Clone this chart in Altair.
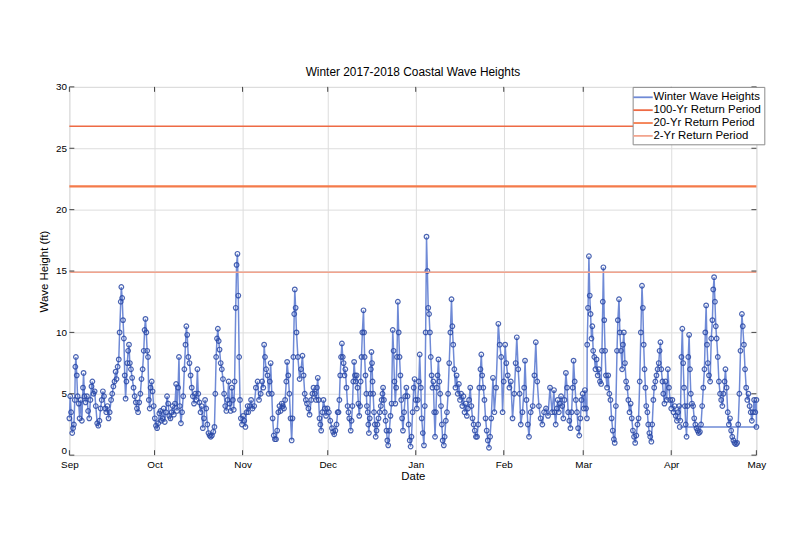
import altair as alt
import pandas as pd

# ---- data: days since 2017-09-01 and wave height (ft) ----
SEG1_DAYS = [
    0.0, 0.3, 0.6, 1.0, 1.3, 1.6, 1.9, 2.1, 2.3, 2.6, 2.9, 3.3, 3.6, 4.0, 4.4, 4.8, 5.0, 5.3, 5.7, 6.2,
    6.6, 7.0, 7.4, 7.8, 8.1, 8.5, 8.9, 9.3, 9.8, 10.2, 10.6, 11.0, 11.4, 11.8, 12.2, 12.6, 13.0, 13.4, 13.8, 14.2,
    14.7, 15.1, 15.5, 15.9, 16.3, 16.6, 17.0, 17.4, 17.7, 18.1, 18.3, 18.6, 18.9, 19.2, 19.5, 19.8, 20.1, 20.4, 20.7, 21.0,
    21.3, 21.7, 22.1, 22.6, 23.0, 23.4, 23.8, 24.2, 24.6, 25.0, 25.4, 25.8, 26.2, 26.5, 26.8, 27.1, 27.4, 27.7, 28.0, 28.3,
    28.6, 29.0, 29.3, 29.7, 30.1, 30.5, 30.9, 31.3, 31.7, 32.1, 32.4, 32.8, 33.2, 33.6, 34.0, 34.4, 34.8, 35.2, 35.6, 36.0,
    36.4, 36.8, 37.2, 37.6, 37.9, 38.3, 38.6, 38.9, 39.3, 39.7, 40.1, 40.5, 40.9, 41.2, 41.5, 41.9, 42.3, 42.7, 43.1, 43.5,
    43.9, 44.3, 44.7, 45.1, 45.4, 45.8, 46.2, 46.6, 47.0, 47.4, 47.8, 48.2, 48.6, 49.0, 49.4, 49.8, 50.2, 50.7, 51.1, 51.4,
    51.7, 52.0, 52.3, 52.6, 52.9, 53.3, 53.7, 54.1, 54.5, 54.9, 55.3, 55.7, 56.1, 56.4, 56.8, 57.2, 57.6, 57.9, 58.2, 58.6,
    58.9, 59.2, 59.5, 59.8, 60.1, 60.4, 60.8, 61.2, 61.6, 62.0, 62.4, 62.8, 63.0, 63.6, 64.0, 64.5, 65.1, 65.7, 66.3, 66.8,
    67.4, 67.9, 68.3, 68.6, 68.9, 69.3, 69.8, 70.2, 70.6, 70.9, 71.3, 71.6, 72.0, 72.4, 72.8, 73.2, 73.6, 74.0, 74.4, 74.8,
    75.2, 75.6, 76.0, 76.4, 76.7, 77.1, 77.5, 77.9, 78.3, 78.6, 78.9, 79.2, 79.4,
]
SEG1_H = [
    3.0, 4.8, 3.5, 1.8, 2.2, 2.5, 4.5, 7.2, 8.0, 6.5, 4.8, 4.2, 3.0, 4.5, 2.8, 5.5, 6.7, 4.8, 4.3, 4.8,
    3.6, 3.0, 4.5, 5.6, 6.0, 5.0, 5.2, 4.0, 2.6, 2.4, 2.8, 3.8, 4.5, 5.2, 4.8, 3.8, 3.5, 4.0, 3.0, 3.5,
    4.5, 5.0, 5.6, 6.0, 6.8, 6.2, 7.2, 7.8, 10.0, 12.5, 13.7, 12.8, 11.0, 9.5, 6.5, 4.6, 6.0, 7.5, 8.5, 9.0,
    7.5, 7.0, 6.3, 5.5, 4.8, 4.3, 3.8, 3.5, 4.3, 5.0, 6.2, 7.0, 8.5, 10.2, 11.1, 10.0, 8.5, 8.0, 4.5, 3.8,
    5.5, 6.0, 5.2, 4.0, 3.0, 2.4, 2.2, 2.6, 3.4, 3.6, 2.8, 3.0, 3.8, 2.7, 3.5, 4.8, 4.2, 3.2, 3.0, 3.5,
    4.0, 3.3, 4.2, 5.8, 3.6, 5.5, 8.0, 4.0, 2.6, 3.5, 4.8, 7.0, 9.0, 10.5, 9.8, 8.0, 7.5, 6.5, 5.5, 4.8,
    4.2, 5.0, 4.5, 7.0, 5.0, 4.3, 3.5, 4.0, 2.2, 3.0, 4.5, 3.8, 2.5, 1.8, 1.6, 1.5, 1.6, 1.9, 2.3, 5.0,
    8.0, 9.5, 10.3, 9.3, 8.6, 7.5, 7.0, 6.2, 5.0, 4.0, 3.6, 4.5, 6.0, 4.2, 3.6, 5.5, 4.5, 3.7, 6.0, 12.0,
    15.5, 16.4, 13.0, 8.0, 4.5, 3.0, 2.5, 3.2, 2.8, 2.3, 3.5, 4.0, 3.5, 4.0, 4.5, 3.8, 4.0, 5.5, 6.0, 4.5,
    5.0, 6.0, 5.5, 9.0, 8.0, 7.0, 6.5, 5.0, 6.0, 7.5, 5.0, 3.0, 1.6, 1.3, 1.3, 2.0, 3.5, 4.0, 3.6, 4.2,
    4.0, 3.8, 4.5, 6.0, 7.6, 6.5, 5.0, 3.0, 1.2, 3.0, 8.0, 11.5, 13.5,
]

SEG2_DAYS = [
    79.7, 80.0, 80.5, 81.1, 81.6, 82.1, 82.5, 82.9, 83.3, 83.7, 84.2, 84.6, 85.2, 85.6, 86.0, 86.5, 86.9, 87.2, 87.5, 87.8,
    88.1, 88.4, 88.7, 89.1, 89.5, 90.0, 90.4, 90.9, 91.4, 91.9, 92.5, 92.9, 93.3, 93.7, 94.1, 94.5, 94.8, 95.1, 95.4, 95.7,
    96.0, 96.3, 96.6, 96.9, 97.2, 97.6, 98.0, 98.3, 98.6, 99.1, 99.4, 99.7, 100.0, 100.3, 100.6, 100.9, 101.2, 101.5, 101.8, 102.1,
    102.4, 102.6, 102.9, 103.2, 103.6, 103.8, 104.0, 104.3, 104.6, 104.8, 105.1, 105.3, 105.5, 105.8, 106.0, 106.2, 106.4, 106.6, 106.8, 107.0,
    107.3, 107.6, 107.9, 108.2, 108.5, 108.9, 109.3, 109.7, 110.0, 110.3, 110.5, 110.8, 111.1, 111.4, 111.7, 112.0, 112.3, 112.7, 113.1, 113.5,
]
SEG2_H = [
    12.0, 10.0, 8.0, 6.2, 7.0, 8.1, 6.5, 5.0, 4.5, 4.2, 3.8, 3.3, 4.5, 5.0, 5.5, 5.0, 4.5, 5.5, 6.3, 4.5,
    3.0, 2.5, 2.0, 3.5, 4.5, 3.8, 3.2, 3.8, 3.5, 2.8, 2.2, 1.9, 1.7, 2.0, 2.5, 3.5, 3.5, 4.5, 6.5, 8.0,
    9.1, 8.0, 7.5, 6.5, 7.0, 5.5, 4.0, 3.5, 3.0, 2.0, 2.8, 4.0, 6.0, 7.6, 6.5, 6.0, 6.5, 5.5, 4.2, 3.2,
    4.0, 6.0, 8.0, 10.0, 11.8, 10.0, 8.0, 6.5, 5.0, 4.0, 3.5, 2.5, 1.8, 3.0, 5.0, 7.0, 8.4, 7.5, 6.0, 5.0,
    3.5, 2.5, 1.5, 2.0, 2.5, 3.0, 3.5, 4.0, 4.5, 5.0, 5.5, 4.5, 3.5, 2.8, 2.0, 1.2, 0.8, 2.0, 3.2, 4.2,
]

SEG3_DAYS = [
    113.9, 114.2, 114.5, 114.8, 115.1, 115.4, 115.7, 116.0, 116.3, 116.6, 116.9, 117.2, 117.5, 117.9, 118.3, 118.7, 119.1, 119.5, 119.9, 120.2,
    120.5, 120.9, 121.3, 121.6, 122.0, 122.4, 122.7, 123.1, 123.4, 123.8, 124.1, 124.5, 124.9, 125.2, 125.5, 125.8, 126.1, 126.4, 126.7, 127.0,
    127.3, 127.6, 127.9, 128.2, 128.5, 128.8, 129.1, 129.4, 129.7, 130.0, 130.3, 130.6, 130.9, 131.2, 131.5, 131.9, 132.2, 132.6, 133.0, 133.4,
    133.8, 134.2, 134.6, 134.9, 135.2, 135.6, 136.0, 136.4, 136.8, 137.2, 137.6, 138.0, 138.4, 138.8, 139.2, 139.6, 140.0, 140.4, 140.8, 141.2,
    141.6, 142.0, 142.4, 142.8, 143.2, 143.6, 144.0, 144.4, 144.8, 145.1, 145.4, 145.8, 146.2, 146.6, 147.0, 147.4, 147.8, 148.2,
]
SEG3_H = [
    10.2, 8.5, 6.0, 4.2, 5.5, 8.0, 12.5, 10.0, 8.0, 6.5, 4.5, 3.0, 2.0, 3.5, 4.8, 5.5, 4.8, 2.5, 1.2, 0.7,
    1.5, 3.5, 5.5, 6.2, 4.5, 3.8, 4.5, 6.0, 8.2, 5.5, 3.0, 1.8, 0.8, 4.0, 10.0, 17.8, 15.0, 12.0, 11.5, 10.0,
    8.0, 6.5, 5.5, 6.0, 3.5, 1.5, 3.5, 5.5, 6.5, 7.8, 6.0, 5.0, 4.0, 2.5, 1.2, 0.8, 1.5, 2.8, 3.5, 5.0,
    7.5, 10.0, 12.7, 10.5, 9.0, 7.0, 5.5, 6.5, 5.0, 5.8, 4.5, 5.0, 4.0, 4.8, 3.5, 4.2, 3.2, 3.8, 4.5, 5.5,
    4.0, 3.0, 2.5, 2.0, 1.5, 1.5, 2.5, 5.5, 7.0, 8.2, 6.5, 5.5, 4.5, 3.0, 2.0, 1.2, 0.6, 1.5,
]

SEG4_DAYS = [
    148.6, 149.2, 149.7, 150.3, 151.1, 151.6, 152.1, 152.6, 153.0, 153.5, 153.9, 154.4, 155.0, 155.5, 156.1, 156.7, 157.2, 157.6, 158.1, 158.6,
    159.0, 159.6, 160.2, 160.5, 161.0, 161.5, 161.9, 162.5, 163.2, 163.8, 164.3, 164.8, 165.4, 166.0, 166.6, 167.2, 167.9, 168.6, 169.3, 170.0,
    170.7,
]
SEG4_H = [
    3.0, 6.3, 3.5, 5.5, 10.7, 9.0, 8.0, 3.5, 6.0, 9.0, 7.5, 6.5, 5.5, 6.0, 3.0, 5.0, 7.5, 9.6, 7.0, 5.0,
    2.5, 3.5, 5.5, 7.7, 4.5, 2.5, 1.5, 3.5, 4.0, 6.5, 9.2, 6.0, 4.0, 3.0, 2.5, 3.5, 3.8, 3.2, 5.5, 3.5,
    5.3,
]

SEG5_DAYS = [
    170.9, 171.3, 171.7, 172.0, 172.4, 172.8,
    173.2, 173.6, 174.0, 174.4, 174.9, 175.3, 175.7, 176.1, 176.5, 176.9, 177.3, 177.6, 178.0, 178.4, 178.8, 179.2, 179.6, 180.0, 180.4, 180.8,
    181.2, 181.6, 182.0, 182.3, 182.4, 182.7, 183.0, 183.3, 183.6, 183.9, 184.2, 184.5, 184.9, 185.3, 185.7, 186.1, 186.5, 186.9, 187.3, 187.6,
    187.9, 188.1, 188.4, 188.7, 189.0, 189.4, 189.8, 190.2, 190.6, 191.0, 191.4, 191.8, 192.1, 192.5, 192.9, 193.2, 193.6, 193.9, 194.3, 194.7,
    195.0, 195.3, 195.7, 196.1, 196.5, 196.9, 197.3, 197.7, 198.1, 198.5, 198.9, 199.3, 199.7, 200.1, 200.5, 200.9, 201.3, 201.7, 202.0, 202.3,
    202.6, 202.9, 203.2, 203.6, 203.9, 204.3, 204.6, 205.0, 205.3, 205.7, 206.0, 206.4, 206.8, 207.2, 207.6, 207.9, 208.2, 208.5, 208.9, 209.2,
    209.6, 210.0, 210.4, 210.8, 211.2, 211.6, 212.0, 212.4, 212.8, 213.2, 213.6, 214.0, 214.4, 214.8, 215.2, 215.6, 215.9, 216.2, 216.5, 216.8,
    217.1, 217.4, 217.7, 218.0, 218.3, 218.6, 218.9, 219.3, 219.7, 220.1, 220.5, 220.9, 221.3, 221.7, 222.1, 222.5, 222.9, 223.3, 223.7, 224.0,
    224.3, 224.6, 224.9, 225.3, 225.7, 226.1, 226.5, 226.8, 227.1, 227.4, 227.7, 228.0, 228.4, 228.8, 229.2, 229.6, 230.0, 230.4, 230.8, 231.1,
    231.5, 231.9, 232.3, 232.7, 233.1, 233.5, 233.9, 234.3, 234.8, 235.2, 235.6, 236.0, 236.4, 236.9, 237.2, 237.6, 238.0, 238.4, 238.8, 239.2,
    239.6, 240.0, 240.4, 240.8, 241.2, 241.6, 242.0,
]
SEG5_H = [
    3.5, 2.5, 3.8, 4.5, 3.5, 4.2,
    4.8, 4.0, 3.0, 4.5, 6.7, 5.5, 3.5, 2.8, 2.2, 3.5, 5.5, 7.7, 6.0, 4.5, 3.5, 2.2, 1.6, 3.0, 4.5, 5.0,
    3.8, 5.3, 3.8, 3.0, 9.0, 12.0, 16.2, 13.0, 11.5, 9.5, 10.5, 8.5, 8.0, 7.0, 7.8, 6.5, 7.0, 6.0, 5.8, 8.5,
    12.5, 15.3, 11.0, 8.5, 6.5, 5.5, 6.5, 5.0, 4.5, 3.0, 2.0, 1.3, 1.0, 4.0, 8.5, 11.0, 12.7, 10.0, 8.5, 7.0,
    9.0, 10.0, 7.5, 6.0, 5.5, 4.5, 3.5, 4.2, 3.0, 2.0, 1.5, 1.0, 1.6, 2.5, 3.0, 6.0, 10.0, 13.8, 12.0, 9.0,
    7.0, 5.5, 4.0, 3.5, 2.5, 1.8, 1.5, 1.1, 2.5, 4.5, 5.5, 6.0, 6.5, 7.0, 7.5, 8.5, 9.2, 7.0, 6.0, 5.0,
    4.2, 6.0, 4.5, 7.0, 5.5, 4.5, 3.8, 4.5, 3.5, 4.0, 3.2, 2.8, 3.5, 4.0, 2.8, 8.0, 10.3, 7.5, 5.5, 4.0,
    2.5, 1.5, 4.0, 8.0, 9.8, 7.0, 5.0, 4.2, 4.0, 3.0, 2.5, 2.2, 2.0, 1.8, 1.9, 2.5, 4.0, 5.5, 7.0, 10.0,
    12.2, 9.0, 7.5, 6.5, 6.0, 9.5, 11.0, 13.5, 14.5, 12.5, 10.5, 9.5, 8.0, 6.0, 5.0, 4.5, 4.0, 5.0, 6.0, 7.0,
    5.5, 3.5, 2.5, 3.0, 2.0, 1.5, 1.2, 1.0, 0.9, 1.0, 2.5, 5.0, 8.5, 11.5, 10.5, 9.0, 7.0, 5.5, 4.5, 5.0,
    4.0, 3.5, 2.8, 3.5, 4.5, 3.5, 4.5,
]

# the record closes with a flat connector drawn back across April
TAIL_DAYS = [242.0, 215.0]
TAIL_H = [2.3, 2.3]

SERIES_NAME = "Winter Wave Heights"
RETURN_NAMES = ["100-Yr Return Period", "20-Yr Return Period", "2-Yr Return Period"]
RETURN_VALUES = [26.8, 21.9, 14.9]
RETURN_COLORS = ["#ee6a44", "#f47a4a", "#f2a48e"]
RETURN_WIDTHS = [1.6, 2.4, 1.6]
SERIES_LINE_COLOR = "#6f8ad6"
SERIES_MARK_COLOR = "#2c4aa6"

MONTH_TICKS = ["2017-09-01", "2017-10-01", "2017-11-01", "2017-12-01", "2018-01-01",
               "2018-02-01", "2018-03-01", "2018-04-01", "2018-05-01"]
Y_TICKS = [0, 5, 10, 15, 20, 25, 30]

W, H = 694, 372
FONT = "Liberation Sans"

segs_d = [SEG1_DAYS, SEG2_DAYS, SEG3_DAYS, SEG4_DAYS, SEG5_DAYS, TAIL_DAYS]
segs_h = [SEG1_H, SEG2_H, SEG3_H, SEG4_H, SEG5_H, TAIL_H]
DAYS, HEIGHTS = [], []
for d, h in zip(segs_d, segs_h):
    assert len(d) == len(h), (len(d), len(h))
    DAYS += d
    HEIGHTS += h

start = pd.Timestamp("2017-09-01")
times = [(start + pd.Timedelta(days=d)).strftime("%Y-%m-%dT%H:%M:%SZ") for d in DAYS]
waves = pd.DataFrame({"t": times, "h": HEIGHTS, "i": list(range(len(DAYS)))})
waves["name"] = SERIES_NAME
returns = pd.DataFrame({"name": RETURN_NAMES, "v": RETURN_VALUES, "w": RETURN_WIDTHS})
mticks = pd.DataFrame({"t": [m + "T00:00:00Z" for m in MONTH_TICKS]})
yticks = pd.DataFrame({"v": Y_TICKS})


def dt(s):
    y, m, d = (int(p) for p in s.split("-"))
    return alt.DateTime(year=y, month=m, date=d, utc=True)


x_scale = alt.Scale(type="utc", domain=[dt(MONTH_TICKS[0]), dt(MONTH_TICKS[-1])])
y_scale = alt.Scale(domain=[0, 30], nice=False)

x_enc = alt.X(
    "t:T", scale=x_scale, title="Date",
    axis=alt.Axis(values=[dt(m) for m in MONTH_TICKS], format="%b", grid=True, ticks=False,
                  domain=False, labelPadding=4, titlePadding=2, labelAlign="center",
                  labelFlush=False, titleFontWeight="normal", titleFont=FONT, titleFontSize=11.5),
)
y_enc = alt.Y(
    "h:Q", scale=y_scale, title="Wave Height (ft)",
    axis=alt.Axis(values=Y_TICKS, grid=True, ticks=False, domain=False, labelPadding=3,
                  titlePadding=6, labelFlush=False, titleFontWeight="normal", titleFont=FONT,
                  titleFontSize=11.5,
                  labelBaseline=alt.condition("datum.value == 0", alt.value("bottom"),
                                              alt.value("middle"))),
)

color_scale = alt.Scale(domain=[SERIES_NAME] + RETURN_NAMES,
                        range=[SERIES_LINE_COLOR] + RETURN_COLORS)
legend = alt.Legend(
    title=None, orient="none", legendX=W - 125, legendY=0, fillColor="white",
    strokeColor="#8a8a8a", padding=3, symbolType="M-1.5,0H1.5", symbolSize=170,
    symbolStrokeWidth=1.8, labelOffset=3, labelFont=FONT, labelFontSize=11.5,
    labelColor="black", rowPadding=0, labelLimit=220,
)

line = alt.Chart(waves).mark_line(strokeWidth=1.5).encode(
    x=x_enc, y=y_enc, order="i:Q",
    color=alt.Color("name:N", scale=color_scale, legend=legend),
)
pts = alt.Chart(waves).mark_point(shape="circle", filled=False, size=22, strokeWidth=1.2,
                                  color=SERIES_MARK_COLOR, opacity=0.85).encode(
    x="t:T", y="h:Q",
)
rules = alt.Chart(returns).mark_rule().encode(
    y="v:Q",
    color=alt.Color("name:N", scale=color_scale, legend=legend),
    strokeWidth=alt.StrokeWidth("w:Q", scale=None, legend=None),
)
tick_color = "#444444"
xb = alt.Chart(mticks).mark_rule(color=tick_color).encode(x="t:T", y=alt.value(H), y2=alt.value(H - 5))
xt = alt.Chart(mticks).mark_rule(color=tick_color).encode(x="t:T", y=alt.value(0), y2=alt.value(5))
yl = alt.Chart(yticks).mark_rule(color=tick_color).encode(y="v:Q", x=alt.value(0), x2=alt.value(5))
yr = alt.Chart(yticks).mark_rule(color=tick_color).encode(y="v:Q", x=alt.value(W - 5), x2=alt.value(W))

chart = alt.layer(line, pts, rules, xb, xt, yl, yr).properties(
    width=W, height=H,
    autosize=alt.AutoSizeParams(type="none"),
    padding={"left": 62, "top": 77, "right": 40, "bottom": 81},
    title=alt.TitleParams(text="Winter 2017-2018 Coastal Wave Heights", font=FONT, fontSize=12,
                          fontWeight="normal", color="black", anchor="middle", frame="group",
                          offset=3),
).configure_view(
    stroke="#555555", strokeWidth=1,
).configure_axis(
    labelFont=FONT, labelFontSize=11.5, labelColor="black", titleColor="black",
    gridColor="#d6dce3", gridDash=[2, 2], gridWidth=0.8,
).configure(background="white")

chart.save("out.html", embed_options={"renderer": "svg", "actions": False})
